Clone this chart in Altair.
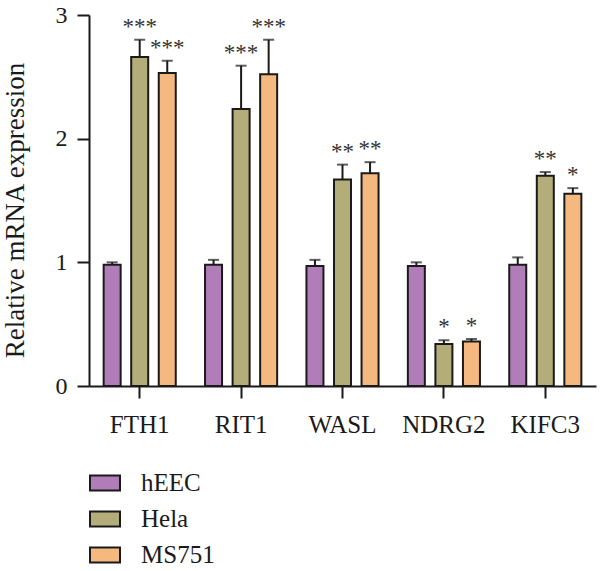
import altair as alt
import pandas as pd

genes = ["FTH1", "RIT1", "WASL", "NDRG2", "KIFC3"]
groups = ["hEEC", "Hela", "MS751"]
colors = ["#B07DB9", "#B3AD7A", "#F5B87E"]

heec_mean = [0.98, 0.98, 0.97, 0.97, 0.98]
heec_err = [1.00, 1.02, 1.02, 1.00, 1.04]
heec_sig = ["", "", "", "", ""]
hela_mean = [2.66, 2.24, 1.67, 0.34, 1.70]
hela_err = [2.80, 2.59, 1.79, 0.37, 1.73]
hela_sig = ["***", "***", "**", "*", "**"]
ms_mean = [2.53, 2.52, 1.72, 0.36, 1.555]
ms_err = [2.63, 2.80, 1.81, 0.38, 1.60]
ms_sig = ["***", "***", "**", "*", "*"]

rows = []
for g, m, e, s in [("hEEC", heec_mean, heec_err, heec_sig),
                   ("Hela", hela_mean, hela_err, hela_sig),
                   ("MS751", ms_mean, ms_err, ms_sig)]:
    for gene, mv, ev, sv in zip(genes, m, e, s):
        rows.append({"gene": gene, "group": g, "mean": mv, "err": ev, "sig": sv})
df = pd.DataFrame(rows)

FONT = "Liberation Serif"

x = alt.X("gene:N", sort=genes, scale=alt.Scale(paddingInner=0, paddingOuter=0),
          axis=alt.Axis(title=None, labelAngle=0, labelFontSize=25, labelFont=FONT,
                        labelColor="#1a1a1a", tickSize=12, tickWidth=2, tickColor="#1a1a1a",
                        domainWidth=2, domainColor="#1a1a1a", labelPadding=14))
xo = alt.XOffset("group:N", sort=groups,
                 scale=alt.Scale(paddingInner=0, paddingOuter=0.34))
y = alt.Y("mean:Q", scale=alt.Scale(domain=[0, 3]),
          axis=alt.Axis(values=[0, 1, 2, 3], title="Relative mRNA expression",
                        titleFontSize=27, titleFont=FONT, titleFontWeight="normal",
                        titleColor="#1a1a1a",
                        titleX=-74, titleY=195, titleAngle=-90, titleAlign="center",
                        titleBaseline="middle",
                        labelFontSize=24, labelFont=FONT, labelColor="#1a1a1a",
                        tickSize=12, tickWidth=2, tickColor="#1a1a1a",
                        domainWidth=2, domainColor="#1a1a1a", labelPadding=10,
                        grid=False, format="d"))

color = alt.Color("group:N", sort=groups,
                  scale=alt.Scale(domain=groups, range=colors),
                  legend=alt.Legend(title=None, orient="none", legendX=0, legendY=452,
                                    symbolType="M-1,-0.5H1V0.5H-1Z", symbolSize=900,
                                    symbolStrokeColor="#1a1a1a", symbolStrokeWidth=2,
                                    labelFontSize=25, labelFont=FONT, labelColor="#1a1a1a",
                                    labelOffset=20, rowPadding=7, symbolOpacity=1,
                                    offset=0, padding=0))

bars = alt.Chart(df).mark_bar(size=17, stroke="#1a1a1a", strokeWidth=2, opacity=1).encode(
    x=x, xOffset=xo, y=y, color=color)

err = alt.Chart(df).mark_rule(strokeWidth=2, color="#1a1a1a").encode(
    x=alt.X("gene:N", sort=genes), xOffset=xo, y="mean:Q", y2="err:Q")

cap = alt.Chart(df).mark_tick(size=11, thickness=2, color="#1a1a1a", orient="horizontal").encode(
    x=alt.X("gene:N", sort=genes), xOffset=xo, y="err:Q")

stars = alt.Chart(df).mark_text(fontSize=23, font=FONT, color="#333333", baseline="middle",
                                dy=-13).encode(
    x=alt.X("gene:N", sort=genes), xOffset=xo, y="err:Q", text="sig:N")

chart = alt.layer(bars, err, cap, stars).properties(
    width=507, height=371,
    padding={"left": 89, "top": 15, "right": 4, "bottom": 185},
    autosize=alt.AutoSizeParams(type="none"),
).configure_view(stroke=None).configure_axis(labelFont=FONT)

chart.save("out.html", embed_options={"renderer": "svg", "actions": False})
